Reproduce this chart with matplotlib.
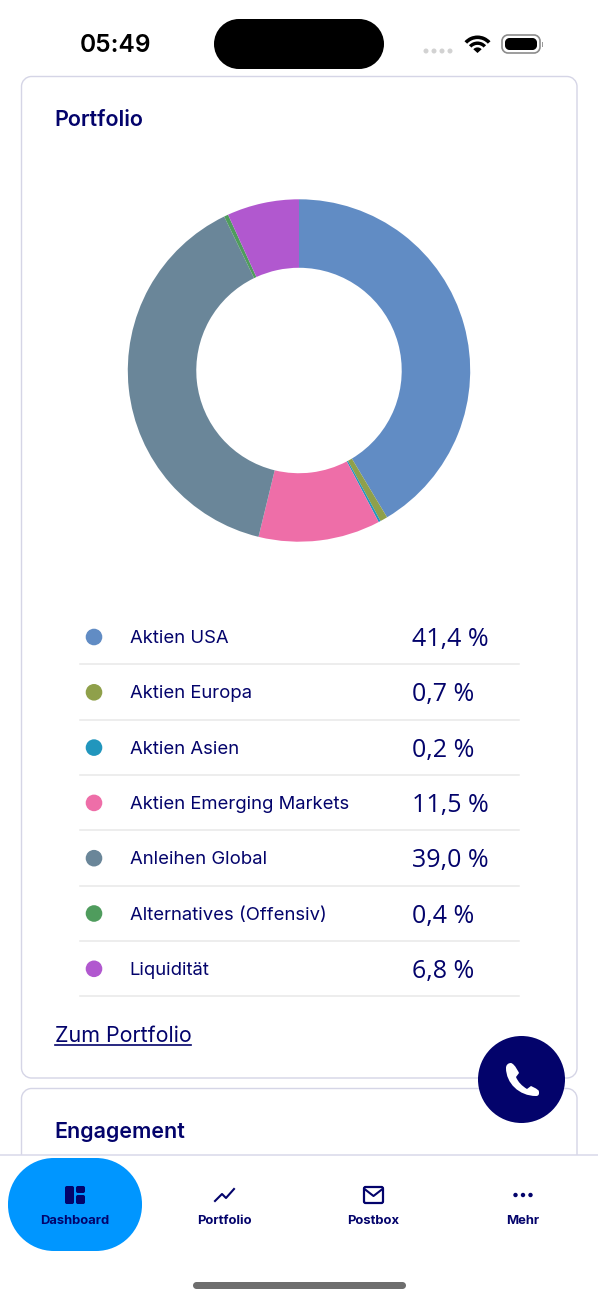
"""
Portfolio donut screen, drawn on a pixel-sized canvas.
"""

import matplotlib
matplotlib.use("Agg")
import matplotlib.pyplot as plt
from matplotlib.patches import Circle, PathPatch, Rectangle, Wedge
from matplotlib.path import Path

W, H = 598, 1300
NAVY = "#03036b"
KAPPA = 0.5523

categories = ["Aktien USA", "Aktien Europa", "Aktien Asien", "Aktien Emerging Markets",
              "Anleihen Global", "Alternatives (Offensiv)", "Liquidität"]
shares = [41.4, 0.7, 0.2, 11.5, 39.0, 0.4, 6.8]
share_labels = ["41,4 %", "0,7 %", "0,2 %", "11,5 %", "39,0 %", "0,4 %", "6,8 %"]
colors = ["#618cc4", "#8fa04a", "#2196bd", "#ee6ea8", "#6a8699", "#4f9c5d", "#b158cf"]
nav_labels = ["Dashboard", "Portfolio", "Postbox", "Mehr"]

plt.rcParams["font.family"] = ["Inter", "DejaVu Sans"]


def rbox(ax, x0, y0, x1, y1, r, **kw):
    # rounded box with true circular corners
    c = r * (1 - KAPPA)
    verts = [(x0 + r, y0), (x1 - r, y0),
             (x1 - c, y0), (x1, y0 + c), (x1, y0 + r),
             (x1, y1 - r),
             (x1, y1 - c), (x1 - c, y1), (x1 - r, y1),
             (x0 + r, y1),
             (x0 + c, y1), (x0, y1 - c), (x0, y1 - r),
             (x0, y0 + r),
             (x0, y0 + c), (x0 + c, y0), (x0 + r, y0),
             (x0 + r, y0)]
    codes = [Path.MOVETO, Path.LINETO,
             Path.CURVE4, Path.CURVE4, Path.CURVE4,
             Path.LINETO,
             Path.CURVE4, Path.CURVE4, Path.CURVE4,
             Path.LINETO,
             Path.CURVE4, Path.CURVE4, Path.CURVE4,
             Path.LINETO,
             Path.CURVE4, Path.CURVE4, Path.CURVE4,
             Path.CLOSEPOLY]
    p = PathPatch(Path(verts, codes), **kw)
    ax.add_patch(p)
    return p


def px_text(ax, x, y, s, size, color=NAVY, weight="normal", ha="left", fam=None):
    # size is given in pixels, figure runs at 100 dpi
    return ax.text(x, y + 1.5, s, fontsize=size * 0.72, color=color, fontweight=weight,
                   ha=ha, va="center", family=fam or ["Inter", "DejaVu Sans"])


def draw_status(ax):
    px_text(ax, 80, 43.5, "05:49", 24.5, color="black", weight="semibold")
    rbox(ax, 214, 19, 384, 69, 25, fc="black", ec="none")
    for x in (426, 434, 442, 450):
        ax.add_patch(Circle((x, 51), 2.5, fc="#d2d2d2", ec="none"))
    # wifi
    for r, w in ((17.5, 3.6), (11.5, 3.4)):
        ax.add_patch(Wedge((477.5, 53), r, 222, 318, width=w, fc="black", ec="none"))
    ax.add_patch(Wedge((477.5, 53), 5.6, 222, 318, fc="black", ec="none"))
    # battery
    rbox(ax, 502, 35, 540, 53, 6, fc="white", ec="#8c8c8c", lw=1.2)
    rbox(ax, 505, 38, 537, 50, 4.5, fc="black", ec="none")
    ax.add_patch(Rectangle((541.5, 42), 1.5, 5, fc="#9a9a9a", ec="none"))


def draw_nav(ax):
    ax.add_patch(Rectangle((0, 1155), W, H - 1155, fc="white", ec="none", zorder=5))
    ax.plot([0, W], [1155, 1155], color="#d9d9ea", lw=1.1, zorder=6)
    rbox(ax, 8, 1158, 142, 1251, 46, fc="#0096ff", ec="none", zorder=6)
    for x, s in zip((75, 224.5, 373.5, 523), nav_labels):
        t = px_text(ax, x, 1219, s, 13, weight="bold", ha="center")
        t.set_zorder(7)
    # dashboard icon
    for x0, y0, x1, y1 in ((65, 1186, 74, 1204), (76, 1186, 85, 1193), (76, 1195, 85, 1204)):
        rbox(ax, x0, y0, x1, y1, 1.8, fc=NAVY, ec="none", zorder=7)
    # portfolio icon
    ax.plot([215, 222, 226, 234], [1201, 1194, 1198, 1189], color=NAVY, lw=1.5, zorder=7)
    # postbox icon
    rbox(ax, 364, 1187, 383, 1203, 1.5, fc="white", ec=NAVY, lw=1.6, zorder=7)
    ax.plot([364.5, 373.5, 382.5], [1189, 1196, 1189], color=NAVY, lw=1.5, zorder=8)
    # more icon
    for x in (515.5, 523, 530.5):
        ax.add_patch(Circle((x, 1195), 2.2, fc=NAVY, ec="none", zorder=7))
    rbox(ax, 193, 1282, 406, 1289, 3.5, fc="#6e6e6e", ec="none", zorder=7)


def draw_call_button(ax):
    ax.add_patch(Circle((521.5, 1079.5), 43.5, fc=NAVY, ec="none", zorder=8))
    verts = [(506, 1068),
             (506, 1065), (508, 1063), (511, 1063),
             (515, 1064), (519, 1073), (519, 1073),
             (516, 1077),
             (518, 1082), (522, 1086), (527, 1089),
             (531, 1086),
             (539, 1090), (539, 1090), (539, 1093),
             (539, 1095), (538, 1096), (536, 1096),
             (519, 1096), (506, 1083), (506, 1068),
             (506, 1068)]
    codes = [Path.MOVETO,
             Path.CURVE4, Path.CURVE4, Path.CURVE4,
             Path.CURVE4, Path.CURVE4, Path.CURVE4,
             Path.LINETO,
             Path.CURVE4, Path.CURVE4, Path.CURVE4,
             Path.LINETO,
             Path.CURVE4, Path.CURVE4, Path.CURVE4,
             Path.CURVE4, Path.CURVE4, Path.CURVE4,
             Path.CURVE4, Path.CURVE4, Path.CURVE4,
             Path.CLOSEPOLY]
    ax.add_patch(PathPatch(Path(verts, codes), fc="white", ec="none", zorder=9))


def main():
    fig = plt.figure(figsize=(W / 100, H / 100), dpi=100, facecolor="white")
    ax = fig.add_axes([0, 0, 1, 1])
    ax.set_xlim(0, W)
    ax.set_ylim(H, 0)
    ax.axis("off")

    draw_status(ax)

    # cards
    rbox(ax, 21.5, 76.5, 577, 1078, 10, fc="white", ec="#d5d5e6", lw=1)
    rbox(ax, 21.5, 1088.5, 577, 1200, 10, fc="white", ec="#d5d5e6", lw=1)
    px_text(ax, 54, 118, "Portfolio", 21.5, weight="semibold")
    px_text(ax, 54, 1130, "Engagement", 21.4, weight="semibold")

    # donut
    cx, cy, r_out = 299, 370.5, 171.2
    pie_ax = fig.add_axes([(cx - r_out) / W, 1 - (cy + r_out) / H, 2 * r_out / W, 2 * r_out / H])
    pie_ax.pie(shares, colors=colors, startangle=90, counterclock=False, radius=1,
               wedgeprops={"width": 0.4, "linewidth": 0})
    pie_ax.set_xlim(-1, 1)
    pie_ax.set_ylim(-1, 1)

    # legend rows
    row0, step = 637, 55.3
    for i, (name, lab, col) in enumerate(zip(categories, share_labels, colors)):
        y = row0 + i * step
        ax.add_patch(Circle((94, y), 8.3, fc=col, ec="none"))
        px_text(ax, 129.5, y, name, 18.5)
        px_text(ax, 412, y + 1, lab, 25, fam=["Open Sans", "DejaVu Sans"])
        ax.plot([80, 519], [y + 27.3, y + 27.3], color="#e8e8e8", lw=1.1)

    px_text(ax, 55, 1035, "Zum Portfolio", 21.5)
    ax.plot([55, 190.5], [1044.5, 1044.5], color=NAVY, lw=1.2)

    draw_nav(ax)
    draw_call_button(ax)

    fig.savefig("out.png", dpi=100)


if __name__ == "__main__":
    main()
